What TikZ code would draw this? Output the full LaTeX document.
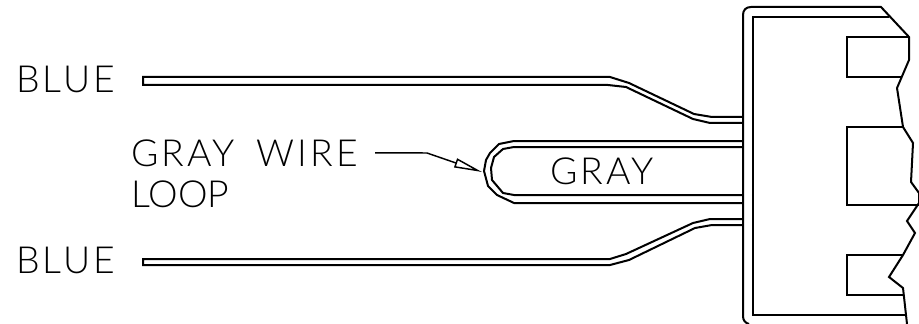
\documentclass[tikz,border=0pt]{standalone}
\usepackage{fontspec}
\setmainfont{Lato Light}[LetterSpace=8, WordSpace=1.7]
\usetikzlibrary{arrows.meta}

\begin{document}
\begin{tikzpicture}[x=0.75pt, y=-0.75pt, line join=miter]
    \tikzstyle{wire}=[line width=1.5pt]
    \tikzstyle{body}=[line width=1.5pt]
    \tikzstyle{lbl}=[inner sep=0pt, anchor=base west, font=\fontsize{28pt}{30pt}\selectfont]
    \tikzstyle{leader}=[line width=1.1pt, -{Triangle[open, length=21pt, width=7pt, line width=1.1pt]}]

    \useasboundingbox (0,0) rectangle (919,324);

    % Labels
    \node[lbl] (blueup) at (16,93) {BLUE};
    \node[lbl] (bluedn) at (16,273) {BLUE};
    \node[lbl] (wirelbl) at (131,166) {GRAY WIRE};
    \node[lbl] (looplbl) at (131,207) {\addfontfeature{LetterSpace=0}LOOP};
    \node[lbl] (graylbl) at (550,184) {GRAY};

    % Upper blue wire
    \draw[wire] (742,117) -- (712,117) -- (694,114) -- (629,83) -- (610,77) -- (143,77)
        -- (143,85) -- (608,85) -- (626,87) -- (693,119) -- (710,123) -- (742,123);

    % Lower blue wire
    \draw[wire] (742,219) -- (710,219) -- (693,223) -- (626,254) -- (610,259) -- (143,259)
        -- (143,265) -- (610,265) -- (629,260) -- (695,228) -- (712,225) -- (742,225);

    % Gray loop
    \draw[wire] (742,141) -- (514,141) -- (499,144) -- (490,153) -- (486,160) -- (484,171)
        -- (488,186) -- (497,195) -- (514,203) -- (742,203);
    \draw[wire] (742,147) -- (514,147) -- (503,149) -- (494,157) -- (491,168) -- (492,180)
        -- (503,193) -- (514,195) -- (742,195);

    % Connector housing
    \draw[body] (907,324) -- (903,288) -- (889,277) -- (903,255) -- (915,233) -- (907,221)
        -- (919,203) -- (919,193) -- (911,182) -- (913,143) -- (903,127) -- (897,88)
        -- (909,60) -- (909,37) -- (881,7) -- (751,7)
        .. controls (746,7) and (743,10) .. (743,15) -- (743,316)
        .. controls (743,320) and (745,323) .. (749,324);
    \draw[body] (889,17) -- (753,17) -- (753,315) -- (905,315);

    % Pockets
    \draw[body] (909,37) -- (847,37) -- (847,77) -- (902,77);
    \draw[body] (903,127) -- (847,127) -- (847,205) -- (919,205);
    \draw[body] (903,255) -- (847,255) -- (847,295) -- (903,295);

    % Leader
    \coordinate (bend) at (427,153);
    \coordinate (looptip) at (482,172);
    \draw[leader] (wirelbl.east) ++(17,0) -- (bend) -- (looptip);
\end{tikzpicture}
\end{document}
